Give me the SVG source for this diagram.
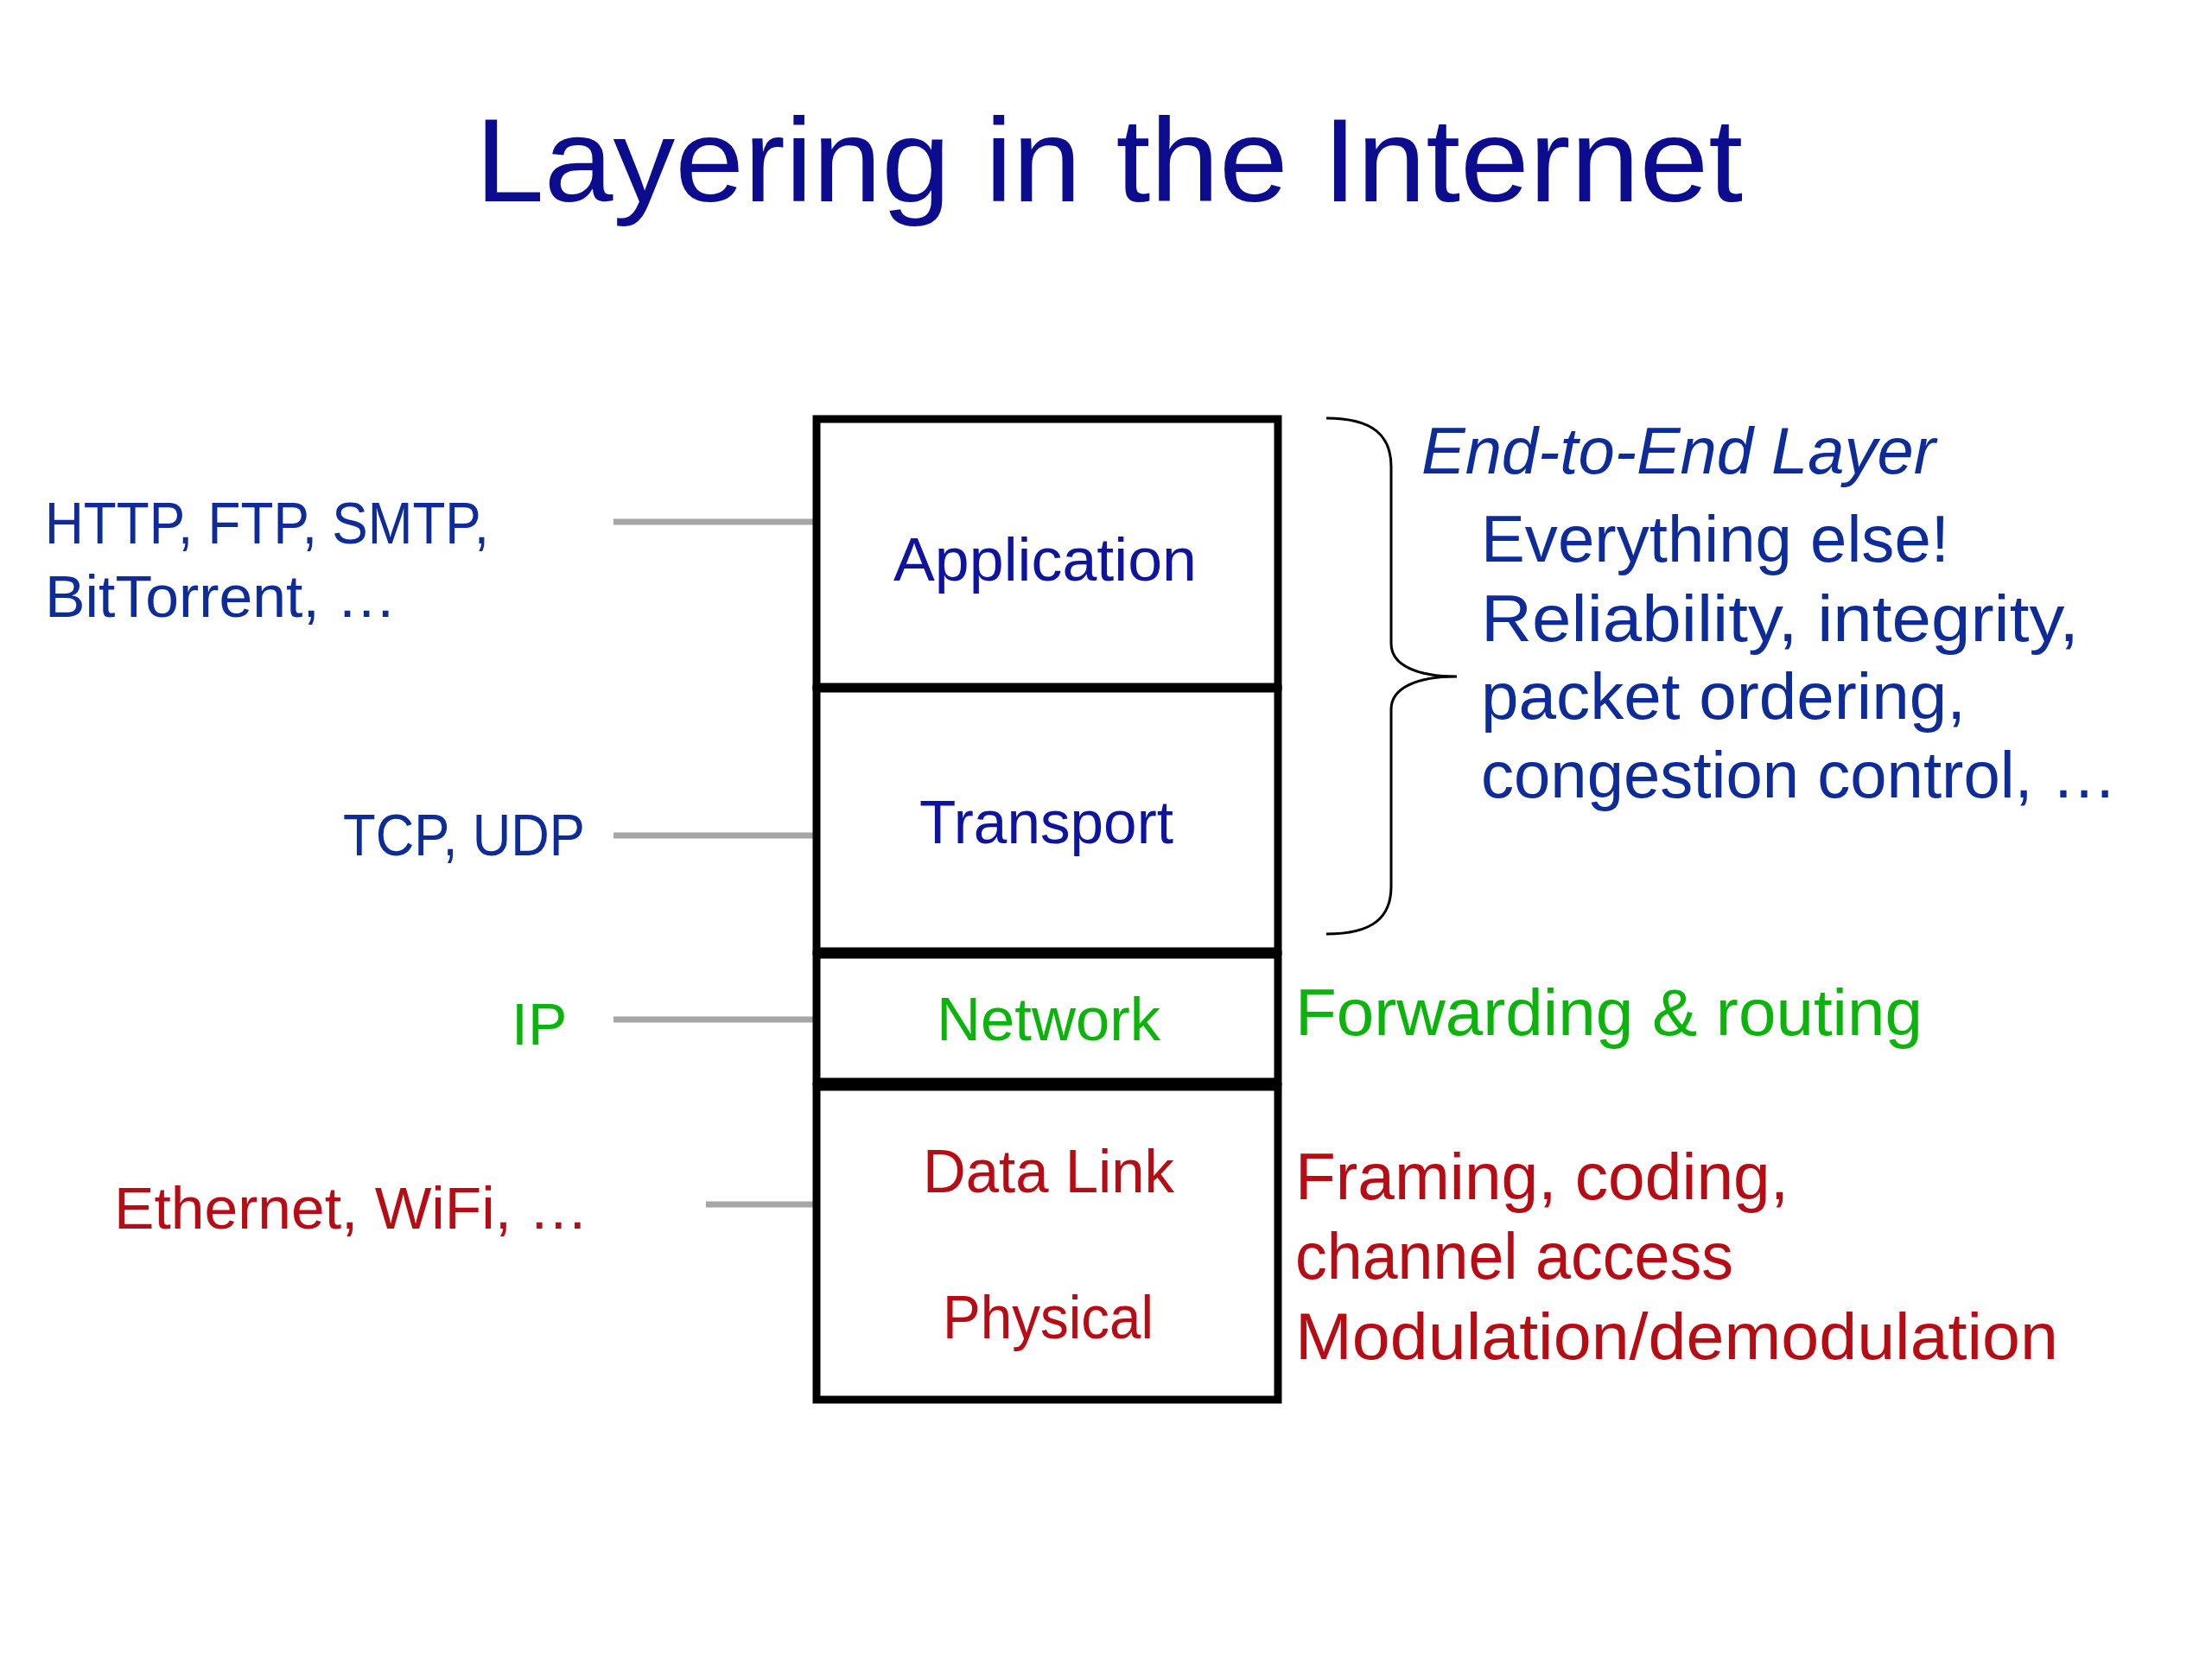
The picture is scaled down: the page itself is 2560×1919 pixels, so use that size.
<svg xmlns="http://www.w3.org/2000/svg" width="2560" height="1919" viewBox="0 0 2560 1919">
<style>
text{font-family:"Liberation Sans",Arial,sans-serif}
.title{font-size:137px;fill:#0c0c8f}
.layer{font-size:70px;text-anchor:start}
.navy{fill:#0f14a0}
.blue{fill:#0d2c9a}
.green{fill:#0ab40a}
.red{fill:#b80c14}
.side{font-size:68px}
.desc{font-size:76px}
.box{fill:#fff;stroke:#000;stroke-width:9}
.conn{stroke:#a6a6a6;stroke-width:7;fill:none}
.brace{stroke:#000;stroke-width:3;fill:none}
</style>
<rect width="2560" height="1919" fill="#fff"/>
<g id="title"><text class="title" x="550" y="233" textLength="1467" lengthAdjust="spacingAndGlyphs">Layering in the Internet</text></g>
<g id="connectors">
<line class="conn" x1="710" y1="604" x2="945" y2="604"/>
<line class="conn" x1="710" y1="967" x2="945" y2="967"/>
<line class="conn" x1="710" y1="1180" x2="945" y2="1180"/>
<line class="conn" x1="817" y1="1394" x2="945" y2="1394"/>
</g>
<g id="application"><rect class="box" x="945" y="485" width="534" height="310"/><text class="layer navy" x="1034" y="672" textLength="351" lengthAdjust="spacingAndGlyphs">Application</text></g>
<g id="transport"><rect class="box" x="945" y="797" width="534" height="304"/><text class="layer navy" x="1064" y="976" textLength="294" lengthAdjust="spacingAndGlyphs">Transport</text></g>
<g id="network"><rect class="box" x="945" y="1105" width="534" height="147"/><text class="layer green" x="1084" y="1204" textLength="259" lengthAdjust="spacingAndGlyphs">Network</text></g>
<g id="datalink-physical"><rect class="box" x="945" y="1258" width="534" height="362"/><text class="layer red" x="1068" y="1380" textLength="291" lengthAdjust="spacingAndGlyphs">Data Link</text><text class="layer red" x="1091" y="1549" textLength="244" lengthAdjust="spacingAndGlyphs">Physical</text></g>
<g id="app-protocols"><text class="side blue" x="52" y="629" textLength="514" lengthAdjust="spacingAndGlyphs">HTTP, FTP, SMTP,</text><text class="side blue" x="52" y="714" textLength="407" lengthAdjust="spacingAndGlyphs">BitTorrent, …</text></g>
<g id="transport-protocols"><text class="side blue" x="397" y="990" textLength="280" lengthAdjust="spacingAndGlyphs">TCP, UDP</text></g>
<g id="network-protocols"><text class="side green" x="592" y="1209">IP</text></g>
<g id="link-protocols"><text class="side red" x="132" y="1422" textLength="549" lengthAdjust="spacingAndGlyphs">Ethernet, WiFi, …</text></g>
<g id="end-to-end">
<path class="brace" d="M1535,484 C1590,484 1610,505 1610,540 L1610,745 C1610,770 1640,783 1686,783 C1640,783 1610,796 1610,821 L1610,1026 C1610,1061 1590,1081 1535,1081"/>
<text class="desc blue" x="1645" y="548" font-style="italic" textLength="595" lengthAdjust="spacingAndGlyphs">End-to-End Layer</text>
<text class="desc blue" x="1714" y="650" textLength="542" lengthAdjust="spacingAndGlyphs">Everything else!</text>
<text class="desc blue" x="1714" y="742" textLength="692" lengthAdjust="spacingAndGlyphs">Reliability, integrity,</text>
<text class="desc blue" x="1714" y="832" textLength="561" lengthAdjust="spacingAndGlyphs">packet ordering,</text>
<text class="desc blue" x="1714" y="923" textLength="736" lengthAdjust="spacingAndGlyphs">congestion control, …</text>
</g>
<g id="network-desc"><text class="desc green" x="1499" y="1198" textLength="726" lengthAdjust="spacingAndGlyphs">Forwarding &amp; routing</text></g>
<g id="link-desc">
<text class="desc red" x="1499" y="1388" textLength="571" lengthAdjust="spacingAndGlyphs">Framing, coding,</text>
<text class="desc red" x="1499" y="1480" textLength="507" lengthAdjust="spacingAndGlyphs">channel access</text>
<text class="desc red" x="1499" y="1573" textLength="883" lengthAdjust="spacingAndGlyphs">Modulation/demodulation</text>
</g>
</svg>
